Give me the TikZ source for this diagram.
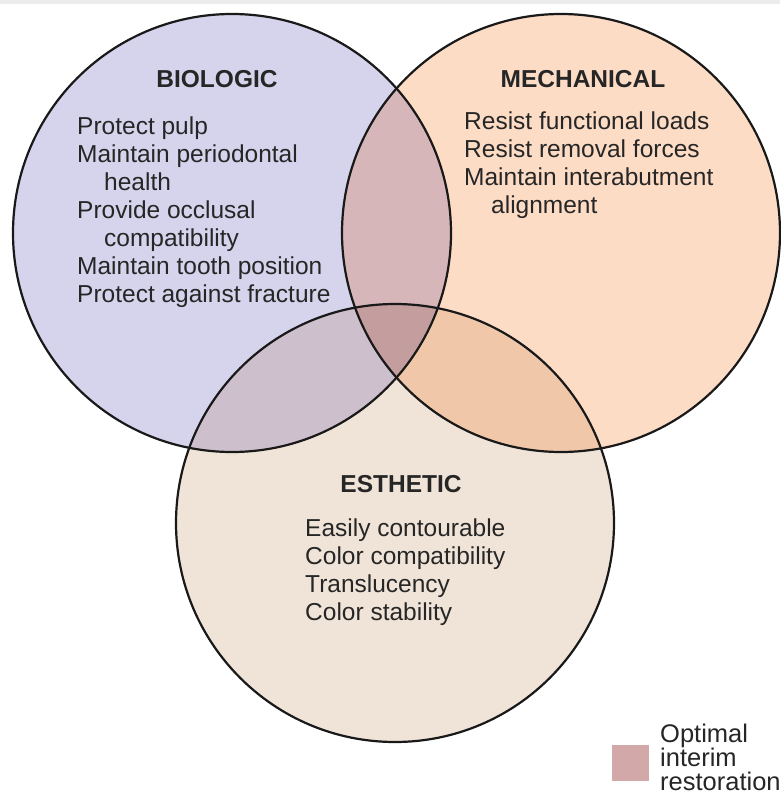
\documentclass[tikz,border=0pt]{standalone}
\usepackage{fontspec}
\setmainfont{Liberation Sans}
\definecolor{biofill}{HTML}{D6D4EC}
\definecolor{mechfill}{HTML}{FDDCC6}
\definecolor{esthfill}{HTML}{F0E4D8}
\definecolor{biomech}{HTML}{D7B6BA}
\definecolor{bioesth}{HTML}{CDBFCB}
\definecolor{mechesth}{HTML}{F0C8A9}
\definecolor{allthree}{HTML}{C49E9E}
\definecolor{keyfill}{HTML}{D2A9A8}
\begin{document}
\begin{tikzpicture}[x=1pt, y=-1pt,
    ring/.style={draw=black!90, line width=2.2pt},
    head/.style={font=\fontsize{24.5}{28}\selectfont\bfseries, text=black!85, anchor=base, inner sep=0pt},
    list/.style={font=\fontsize{24.5}{28}\selectfont, text=black!85, align=left, anchor=base west, inner sep=0pt}]
\useasboundingbox (0,0) rectangle (780,803);
\fill[gray!15] (0,0) rectangle (780,4);

\coordinate (bio) at (232,233);
\coordinate (mech) at (561,233);
\coordinate (esth) at (395,523);

% the three sets
\fill[biofill] (bio) circle (219pt);
\fill[mechfill] (mech) circle (219pt);
\fill[esthfill] (esth) circle (219pt);
\begin{scope}
  \clip (mech) circle (219pt);
  \fill[mechesth] (esth) circle (219pt);
\end{scope}
\begin{scope}
  \clip (bio) circle (219pt);
  \fill[biomech] (mech) circle (219pt);
  \fill[bioesth] (esth) circle (219pt);
  \clip (mech) circle (219pt);
  \fill[allthree] (esth) circle (219pt);
\end{scope}
\draw[ring] (bio) circle (219pt);
\draw[ring] (mech) circle (219pt);
\draw[ring] (esth) circle (219pt);

% labels (list nodes sit on their last baseline)
\node (biohead) [head] at (217,87) {BIOLOGIC};
\node (biolist) [list] at (77,302) {Protect pulp\\Maintain periodontal\\\hspace*{27pt}health\\Provide occlusal\\\hspace*{27pt}compatibility\\Maintain tooth position\\Protect against fracture};
\node (mechhead) [head] at (583,87) {MECHANICAL};
\node (mechlist) [list] at (464,213) {Resist functional loads\\Resist removal forces\\Maintain interabutment\\\hspace*{27pt}alignment};
\node (esthhead) [head] at (401,492) {ESTHETIC};
\node (esthlist) [list] at (305,620) {Easily contourable\\Color compatibility\\Translucency\\Color stability};

% key
\fill[keyfill] (612,745) rectangle (649,781);
\node (key) [list, font=\fontsize{25.5}{24}\selectfont] at (660,790) {Optimal\\interim\\restoration};
\end{tikzpicture}
\end{document}
